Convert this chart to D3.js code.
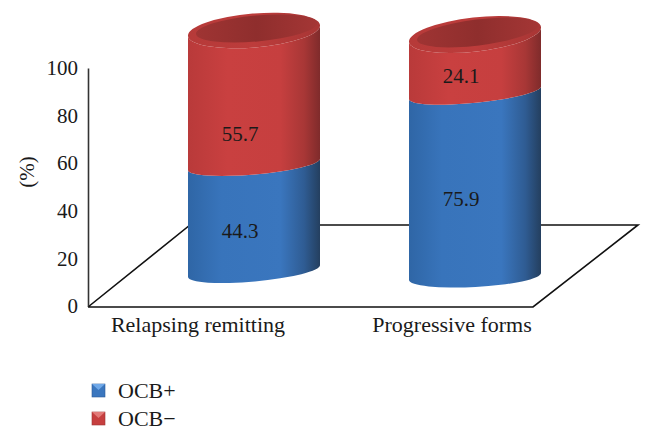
<!DOCTYPE html>
<html>
<head>
<meta charset="utf-8">
<script src="https://cdn.jsdelivr.net/npm/d3@7"></script>
<style>
  html, body { margin: 0; padding: 0; background: #fff; }
  text { font-family: "Liberation Serif", serif; fill: #1a1a1a; }
</style>
</head>
<body>
<svg id="chart"></svg>
<script>
const categories = ['Relapsing remitting', 'Progressive forms'];
const ocbPlus = [44.3, 75.9];
const ocbMinus = [55.7, 24.1];
const seriesNames = ['OCB+', 'OCB\u2212'];
const yTicks = [0, 20, 40, 60, 80, 100];

const width = 652, height = 448;
const fontSize = 21;
const catFontSize = 22;

const chart = d3.select('#chart').attr('width', width).attr('height', height);
const defs = chart.append('defs');

// horizontal shading of the cylinders
function shade(id, stops) {
  const g = defs.append('linearGradient').attr('id', id);
  stops.forEach((s) => g.append('stop').attr('offset', s[0]).attr('stop-color', s[1]));
}
shade('blueBody', [[0, '#2f66a6'], [0.25, '#3874bb'], [0.7, '#3a76be'], [0.88, '#2f5c93'], [1, '#243f5f']]);
shade('redBody', [[0, '#b93a3a'], [0.3, '#c94040'], [0.7, '#c63f3f'], [0.88, '#a83736'], [1, '#7f2b2b']]);
shade('rim', [[0, '#b63a39'], [0.5, '#bd3c3b'], [1, '#a83635']]);
shade('inner', [[0, '#9f3433'], [0.5, '#8f2e2d'], [1, '#a43635']]);

const y = d3.scaleLinear().domain([0, 100]).range([306, 68]);
const xLabel = d3.scalePoint().domain(categories).range([198, 452]);
const xBar = d3.scalePoint().domain(categories).range([254, 475]);
const barHalf = 66;

// the cylinders are drawn in perspective: each edge has its own vertical run
const leftEdge = [
  d3.scaleLinear().domain([0, 100]).range([277, 36]),
  d3.scaleLinear().domain([0, 100]).range([280, 42]),
];
const rightEdge = [
  d3.scaleLinear().domain([0, 100]).range([265, 25]),
  d3.scaleLinear().domain([0, 100]).range([273, 27]),
];
const labelDy = [[13, 36], [14, 12]];

// floor
const floor = d3.line();
chart.append('path')
  .attr('d', floor([[88, 307], [533, 307], [638, 225], [190, 225], [88, 307]]))
  .attr('fill', 'none')
  .attr('stroke', '#111')
  .attr('stroke-width', 1.6);

// y axis
const yAxis = d3.axisLeft(y).tickValues(yTicks).tickSize(0).tickPadding(10);
const axisG = chart.append('g').attr('transform', 'translate(88,0)').call(yAxis);
axisG.select('.domain').attr('stroke', '#333').attr('stroke-width', 1.6);
axisG.selectAll('text').style('font-size', fontSize + 'px').style('font-family', '"Liberation Serif", serif').attr('fill', '#1a1a1a');

chart.append('text')
  .attr('transform', 'translate(27,172) rotate(-90)')
  .attr('text-anchor', 'middle')
  .attr('dy', '0.35em')
  .style('font-size', fontSize + 'px')
  .text('(%)');

// category labels
chart.selectAll('text.cat')
  .data(categories)
  .enter()
  .append('text')
  .classed('cat', true)
  .attr('x', (d) => xLabel(d))
  .attr('y', 332)
  .attr('text-anchor', 'middle')
  .style('font-size', catFontSize + 'px')
  .text((d) => d);

// arc from the left edge to the right edge, bulging downwards
function arcTo(i, v, ry, x, yy, sweep) {
  const dy = rightEdge[i](v) - leftEdge[i](v);
  const rx = Math.hypot(barHalf * 2, dy) / 2;
  const rot = (Math.atan2(dy, barHalf * 2) * 180) / Math.PI;
  return `A${rx} ${ry} ${rot} 0 ${sweep} ${x} ${yy}`;
}

function segment(i, v0, v1, ry0, ry1) {
  const c = xBar(categories[i]);
  const x0 = c - barHalf, x1 = c + barHalf;
  return `M${x0} ${leftEdge[i](v0)}` +
    arcTo(i, v0, ry0, x1, rightEdge[i](v0), 0) +
    `L${x1} ${rightEdge[i](v1)}` +
    arcTo(i, v1, ry1, x0, leftEdge[i](v1), 1) + 'Z';
}

function topEllipse(i, inset, ry, shift) {
  const c = xBar(categories[i]);
  const x0 = c - barHalf + inset, x1 = c + barHalf - inset / 3;
  const yl = leftEdge[i](100) + shift, yr = rightEdge[i](100) + shift;
  const dy = yr - yl;
  const rx = Math.hypot(x1 - x0, dy) / 2;
  const rot = (Math.atan2(dy, x1 - x0) * 180) / Math.PI;
  return `M${x0} ${yl}A${rx} ${ry} ${rot} 0 0 ${x1} ${yr}A${rx} ${ry} ${rot} 0 0 ${x0} ${yl}Z`;
}

const bars = chart.selectAll('g.bar')
  .data(categories)
  .enter()
  .append('g')
  .classed('bar', true);

bars.append('path')
  .attr('d', (d, i) => segment(i, 0, ocbPlus[i], 10.5, 10))
  .attr('fill', 'url(#blueBody)');

bars.append('path')
  .attr('d', (d, i) => segment(i, ocbPlus[i], 100, 10, 17))
  .attr('fill', 'url(#redBody)');

bars.append('path')
  .attr('d', (d, i) => topEllipse(i, 0, 17, 0))
  .attr('fill', 'url(#rim)');

bars.append('path')
  .attr('d', (d, i) => topEllipse(i, 8, 13, -2))
  .attr('fill', 'url(#inner)');

// value labels
function labelX(i) {
  return xBar(categories[i]) - 14;
}
function labelY(i, v0, v1, dy) {
  const m = (v0 + v1) / 2;
  return (leftEdge[i](m) + rightEdge[i](m)) / 2 + dy;
}
bars.append('text')
  .attr('x', (d, i) => labelX(i))
  .attr('y', (d, i) => labelY(i, 0, ocbPlus[i], labelDy[i][0]))
  .attr('dy', '0.35em')
  .attr('text-anchor', 'middle')
  .style('font-size', fontSize + 'px')
  .text((d, i) => ocbPlus[i]);

bars.append('text')
  .attr('x', (d, i) => labelX(i))
  .attr('y', (d, i) => labelY(i, ocbPlus[i], 100, labelDy[i][1]))
  .attr('dy', '0.35em')
  .attr('text-anchor', 'middle')
  .style('font-size', fontSize + 'px')
  .text((d, i) => ocbMinus[i]);

// legend
const legendFill = ['#3a76be', '#c63f3f'];
const legendTop = ['#6fa8e8', '#e27a78'];
const legendDark = ['#2c5b96', '#9c3433'];
const legend = chart.selectAll('g.legend')
  .data(seriesNames)
  .enter()
  .append('g')
  .classed('legend', true)
  .attr('transform', (d, i) => `translate(92,${384 + i * 28})`);

legend.append('rect')
  .attr('width', 13)
  .attr('height', 13)
  .attr('fill', (d, i) => legendFill[i])
  .attr('stroke', (d, i) => legendDark[i])
  .attr('stroke-width', 0.6);

legend.append('path')
  .attr('d', 'M0 0L13 0L6.5 6Z')
  .attr('fill', (d, i) => legendTop[i]);

legend.append('text')
  .attr('x', 26)
  .attr('y', 6)
  .attr('dy', '0.35em')
  .style('font-size', catFontSize + 'px')
  .text((d) => d);
</script>
</body>
</html>
